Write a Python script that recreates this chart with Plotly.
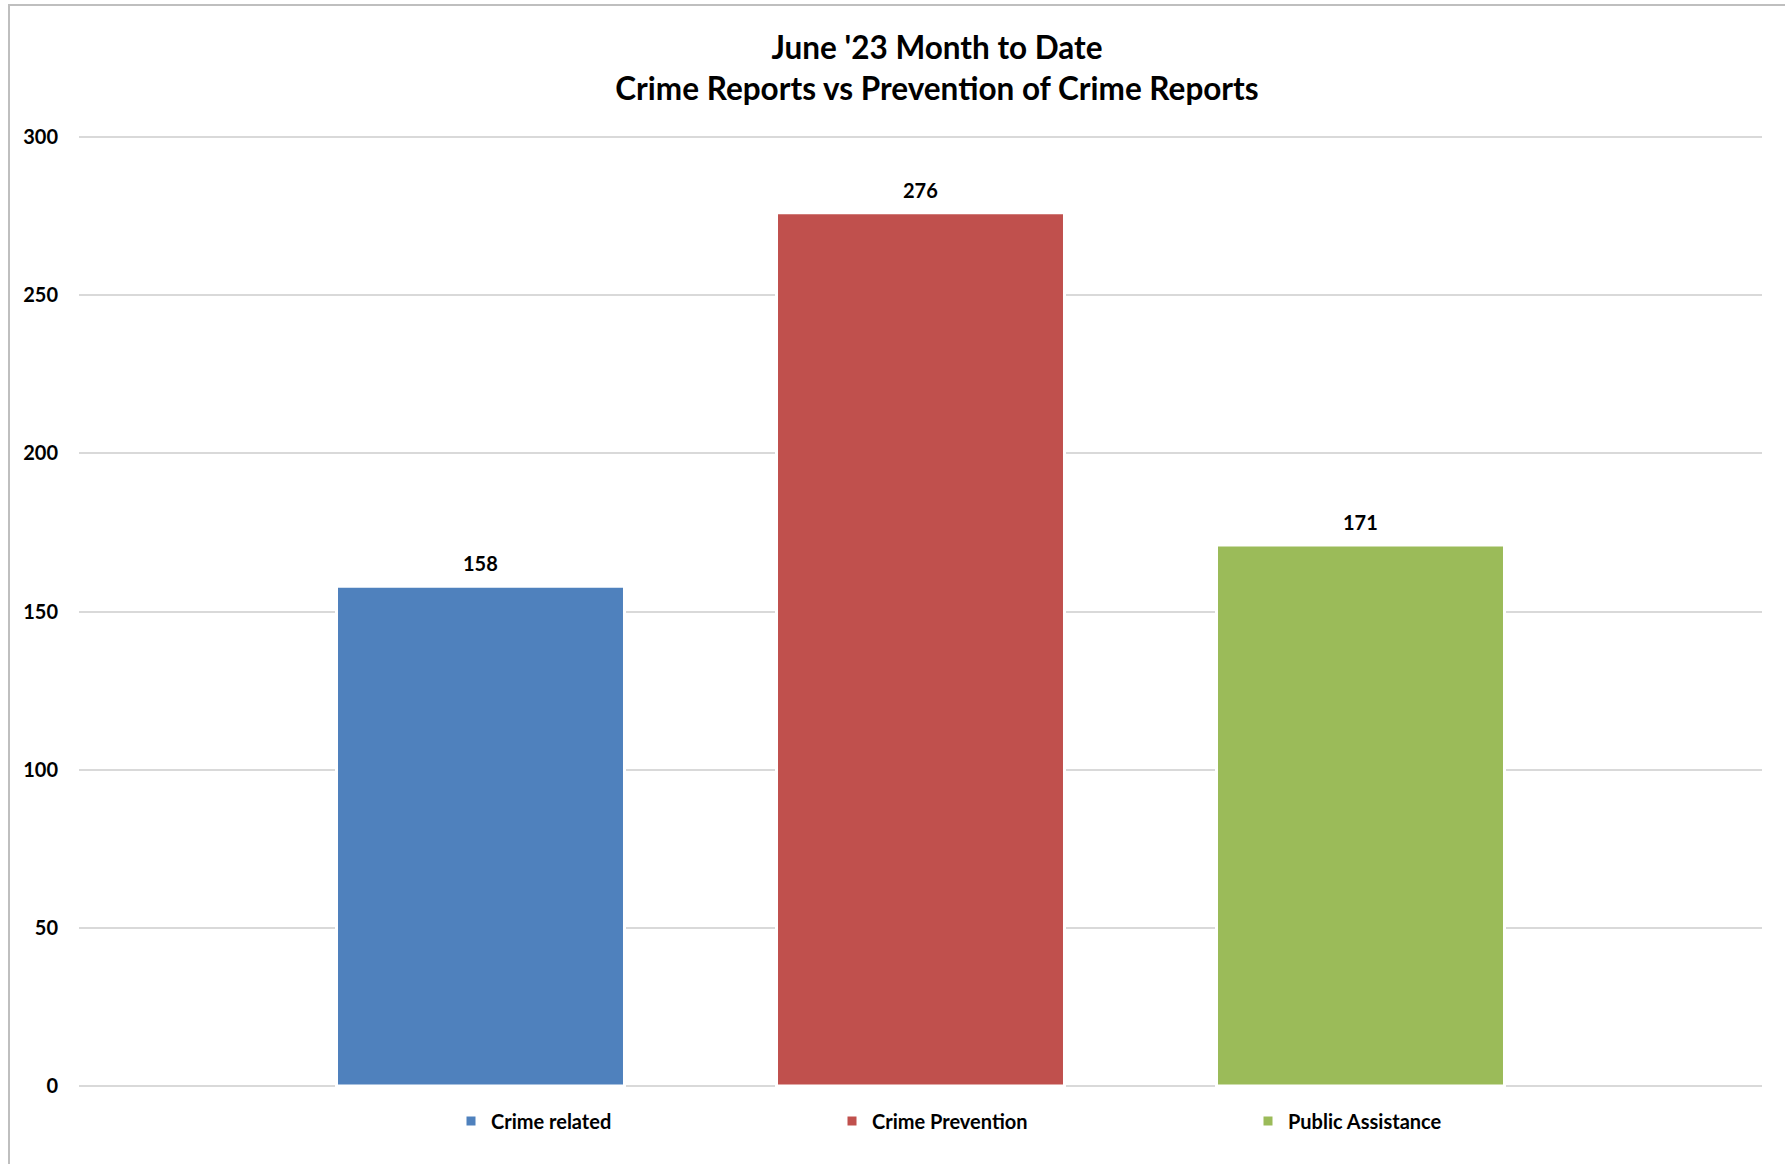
import plotly.graph_objects as go

categories = ["Crime related", "Crime Prevention", "Public Assistance"]
values = [158, 276, 171]
colors = ["#4F81BD", "#C0504D", "#9BBB59"]
y_ticks = [0, 50, 100, 150, 200, 250, 300]
title_lines = ["June '23 Month to Date", "Crime Reports vs Prevention of Crime Reports"]

FONT = "Lato"
W, H = 1785, 1164
L, R, T, B = 79, 23, 135, 76
plot_w = W - L - R
plot_h = H - T - B

fig = go.Figure()
legend_names = ["legend", "legend2", "legend3"]
for i, (cat, val, col) in enumerate(zip(categories, values, colors)):
    fig.add_trace(go.Bar(
        x=[cat], y=[val], name=cat,
        marker=dict(color=col, line=dict(color="white", width=3)),
        legend=legend_names[i],
        hoverinfo="x+y",
    ))
    fig.add_annotation(
        x=cat, y=val, text=str(val), showarrow=False,
        yanchor="bottom", yshift=9,
        font=dict(family=FONT, size=20, color="black", weight="bold"),
    )

text_starts = [491, 872, 1288]
legend_y = -(1121 - (H - B)) / plot_h
legend_common = dict(
    orientation="h", yanchor="middle", xanchor="left",
    font=dict(family=FONT, size=20, color="black", weight="bold"),
    bgcolor="rgba(0,0,0,0)", borderwidth=0,
)
layout_legends = {}
for i, name in enumerate(legend_names):
    layout_legends[name] = dict(legend_common, x=(text_starts[i] - 40 - L) / plot_w, y=legend_y)

fig.update_layout(
    width=W, height=H,
    margin=dict(l=L, r=R, t=T, b=B, pad=0),
    paper_bgcolor="white", plot_bgcolor="white",
    barmode="overlay", bargap=0.3455,
    showlegend=True,
    title=dict(
        text="<br>".join(title_lines),
        x=937 / W, xanchor="center", xref="container",
        y=1 - 59 / H, yanchor="top", yref="container",
        font=dict(family=FONT, size=31.5, color="black", weight="bold"),
    ),
    xaxis=dict(
        type="category", range=[-0.9125, 2.9125],
        showticklabels=False, showgrid=False, zeroline=False, showline=False,
        ticks="", fixedrange=True,
    ),
    yaxis=dict(
        range=[-0.6, 300.6], tickvals=y_ticks,
        showgrid=True, gridcolor="#D9D9D9", gridwidth=2,
        zeroline=False, showline=False, ticks="",
        ticklabelstandoff=20,
        tickfont=dict(family=FONT, size=20, color="black", weight="bold"),
    ),
    **layout_legends,
)

# outer chart frame (left and top edges visible)
fig.add_shape(
    type="rect", xref="paper", yref="paper",
    x0=(9 - L) / plot_w, x1=(W + 20 - L) / plot_w,
    y0=-(H + 20 - (H - B)) / plot_h, y1=((H - B) - 5) / plot_h,
    line=dict(color="#BFBFBF", width=2), fillcolor="rgba(0,0,0,0)", layer="below",
)

fig.write_html(
    "out.html",
    config={"displayModeBar": False},
    post_script="document.body.style.margin='0px';",
)
